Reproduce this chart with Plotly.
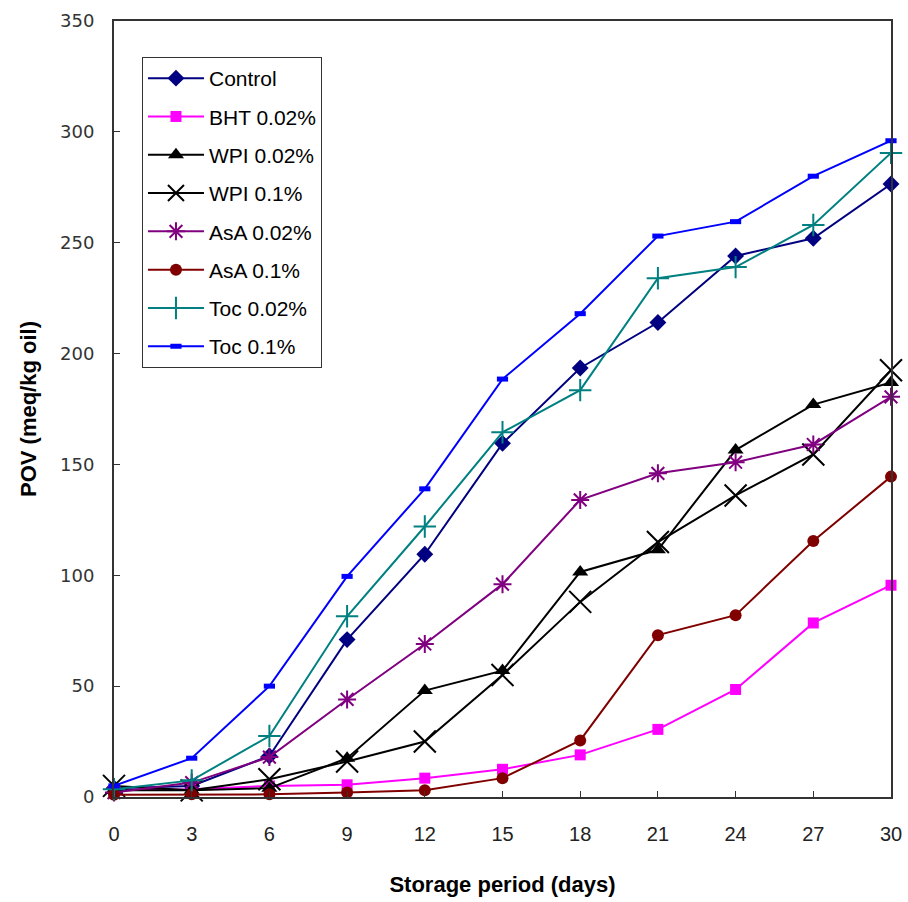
import plotly.graph_objects as go

days = [0, 3, 6, 9, 12, 15, 18, 21, 24, 27, 30]
control = [4, 5, 18.5, 71, 109.5, 159.5, 193.5, 214, 244, 252, 276.5]
bht_002 = [3, 3.5, 5, 5.5, 8.5, 12.5, 19, 30.5, 48.5, 78.5, 95.5]
wpi_002 = [3, 3, 4, 17.5, 48, 57, 101.5, 111.5, 156.5, 177, 187]
wpi_01 = [5, 3, 8, 16, 25, 55, 88, 115, 136, 154.5, 192.5]
asa_002 = [2, 6.5, 18, 44, 69, 96, 134, 146, 151, 159, 180.5]
asa_01 = [1, 1.2, 1.2, 2, 3, 8.5, 25.5, 73, 82, 115.5, 144.5]
toc_002 = [3.5, 7.5, 27.5, 81.5, 122, 164.5, 183.5, 234, 239, 258, 290.5]
toc_01 = [5, 17.5, 50, 99.5, 139, 188.5, 218, 253, 259.5, 280, 296]

series = [
    ("Control", control, "#000080", dict(symbol="diamond", size=13)),
    ("BHT 0.02%", bht_002, "#FF00FF", dict(symbol="square", size=11)),
    ("WPI 0.02%", wpi_002, "#000000", dict(symbol="triangle-up", size=14)),
    ("WPI 0.1%", wpi_01, "#000000", dict(symbol="x-thin-open", size=22, line=dict(width=2, color="#000000"))),
    ("AsA 0.02%", asa_002, "#800080", dict(symbol="asterisk-open", size=15, line=dict(width=2, color="#800080"))),
    ("AsA 0.1%", asa_01, "#800000", dict(symbol="circle", size=12)),
    ("Toc 0.02%", toc_002, "#008080", dict(symbol="cross-thin-open", size=16, line=dict(width=2, color="#008080"))),
    ("Toc 0.1%", toc_01, "#0000FF", dict(symbol="line-ew-open", size=8, line=dict(width=5, color="#0000FF"))),
]

fig = go.Figure()
for i, (name, vals, color, mk) in enumerate(series):
    marker = dict(color=color, **mk)
    fig.add_trace(go.Scatter(
        x=days, y=vals, name=name, mode="lines+markers",
        line=dict(color=color, width=2),
        marker=marker, cliponaxis=False, legendgroup=f"g{i}",
    ))

fig.update_layout(
    width=908, height=902,
    margin=dict(l=114, r=17, t=21, b=105, autoexpand=False),
    paper_bgcolor="white", plot_bgcolor="white",
    showlegend=True,
    legend=dict(
        x=0.036, y=0.9536, xanchor="left", yanchor="top",
        bgcolor="white", bordercolor="#333333", borderwidth=1,
        font=dict(family="Liberation Sans, Arial, sans-serif", size=21, color="#000000"),
        tracegroupgap=8, itemwidth=56, traceorder="grouped",
    ),
    xaxis=dict(
        range=[0, 30], tickvals=days, ticks="inside", ticklen=6, tickcolor="#333333",
        showline=True, linecolor="#333333", linewidth=1.5, mirror=True,
        showgrid=False, zeroline=False, automargin=False,
        tickfont=dict(family="Liberation Sans Narrow, Liberation Sans, Arial, sans-serif", size=20, color="#222222"),
        ticklabelstandoff=18,
        title=dict(text="<b>Storage period (days)</b>", standoff=33,
                   font=dict(family="Liberation Sans, Arial, sans-serif", size=22, color="#000000")),
    ),
    yaxis=dict(
        range=[0, 350], tickvals=[0, 50, 100, 150, 200, 250, 300, 350],
        ticks="inside", ticklen=6, tickcolor="#333333",
        showline=True, linecolor="#333333", linewidth=2, mirror=True,
        showgrid=False, zeroline=False, automargin=False,
        tickfont=dict(family="DejaVu Sans, sans-serif", size=18, color="#333333"),
        ticklabelstandoff=14,
        title=dict(text="<b>POV (meq/kg oil)</b>", standoff=17,
                   font=dict(family="Liberation Sans, Arial, sans-serif", size=22, color="#000000")),
    ),
)

fig.write_html("out.html")
